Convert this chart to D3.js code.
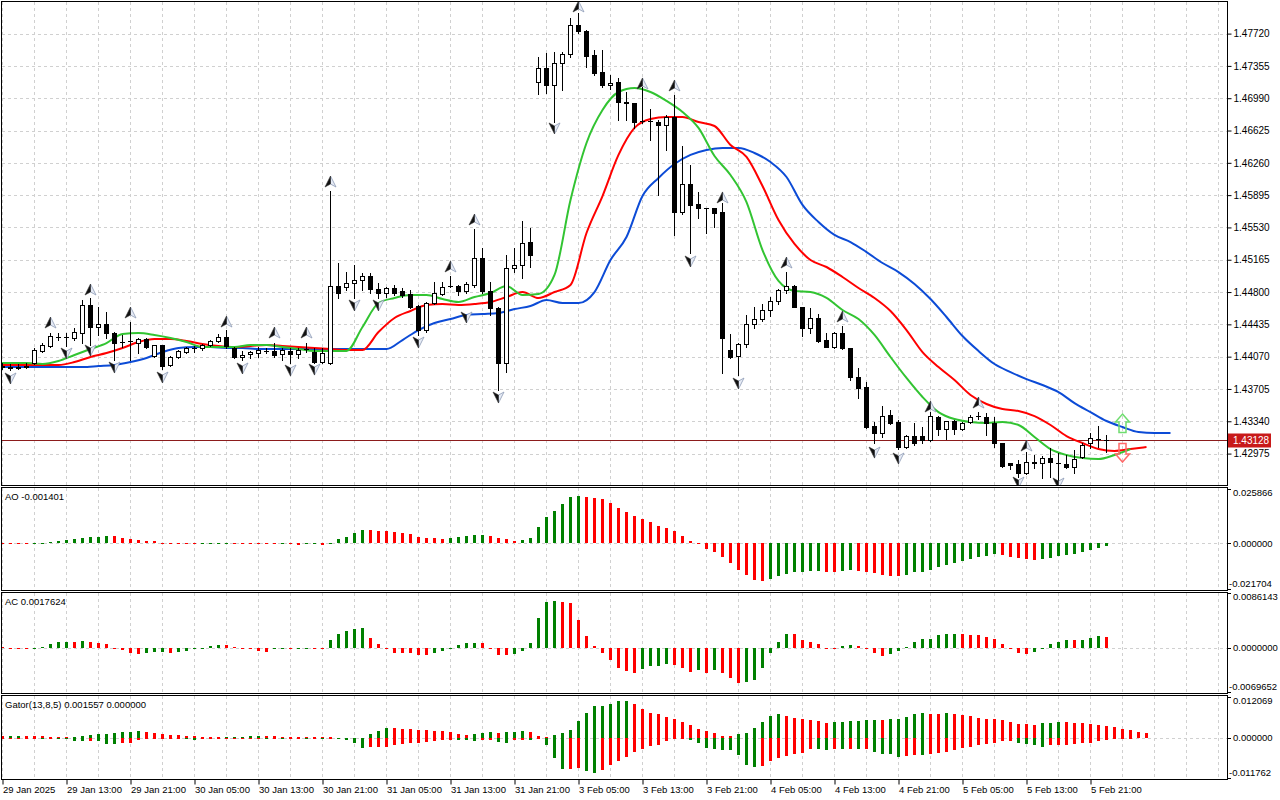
<!DOCTYPE html>
<html>
<head>
<meta charset="utf-8">
<script src="https://cdnjs.cloudflare.com/ajax/libs/d3/7.8.5/d3.min.js"></script>
<style>
  html, body { margin: 0; padding: 0; background: #fff; }
  svg { display: block; font-family: "Liberation Sans", Arial, sans-serif; font-size: 9.5px; }
</style>
</head>
<body>
<div id="chart"></div>
<script>
(function () {

  // ---- H1 candles, bar 0 = 29 Jan 2025 ----
  const opens = [
    1.43964, 1.43953, 1.43942, 1.43953, 1.43998, 1.44134, 1.44190, 1.44292, 1.44292, 1.44281,
    1.44337, 1.44654, 1.44405, 1.44439, 1.44337, 1.44235, 1.44247, 1.44224, 1.44269, 1.44077,
    1.44202, 1.43976, 1.44066, 1.44122, 1.44168, 1.44168, 1.44202, 1.44247, 1.44292, 1.44168,
    1.44066, 1.44100, 1.44111, 1.44134, 1.44134, 1.44100, 1.44134, 1.44100, 1.44156, 1.44122,
    1.44009, 1.43998, 1.44868, 1.44857, 1.44902, 1.44936, 1.44981, 1.44834, 1.44789, 1.44846,
    1.44812, 1.44778, 1.44642, 1.44371, 1.44676, 1.44778, 1.44868, 1.44868, 1.44812, 1.44880,
    1.45185, 1.44812, 1.44620, 1.43998, 1.45072, 1.45106, 1.45365, 1.47173, 1.47332, 1.47140,
    1.47388, 1.47490, 1.47818, 1.47750, 1.47479, 1.47286, 1.47140, 1.47173, 1.46947, 1.46936,
    1.46733, 1.46733, 1.46721, 1.46688, 1.46778, 1.45704, 1.46021, 1.45795, 1.45750, 1.45750,
    1.45704, 1.44145, 1.44077, 1.44213, 1.44439, 1.44495, 1.44597, 1.44699, 1.44823, 1.44868,
    1.44631, 1.44394, 1.44507, 1.44258, 1.44179, 1.44337, 1.44168, 1.43840, 1.43727, 1.43286,
    1.43207, 1.43411, 1.43331, 1.43049, 1.43173, 1.43173, 1.43128, 1.43388, 1.43252, 1.43343,
    1.43252, 1.43331, 1.43399, 1.43388, 1.43320, 1.43094, 1.42868, 1.42857, 1.42755, 1.42868,
    1.42868, 1.42925, 1.42868, 1.42857, 1.42823, 1.42936, 1.43094, 1.43139, 1.43128
  ]
  const highs = [
    1.43998, 1.43987, 1.43987, 1.43998, 1.44168, 1.44224, 1.44337, 1.44337, 1.44337, 1.44394,
    1.44710, 1.44733, 1.44631, 1.44574, 1.44348, 1.44315, 1.44461, 1.44281, 1.44281, 1.44202,
    1.44202, 1.44077, 1.44145, 1.44179, 1.44190, 1.44213, 1.44258, 1.44326, 1.44371, 1.44179,
    1.44134, 1.44134, 1.44179, 1.44168, 1.44224, 1.44168, 1.44168, 1.44168, 1.44224, 1.44168,
    1.44168, 1.45942, 1.45128, 1.45026, 1.45106, 1.45015, 1.45015, 1.44902, 1.44857, 1.44880,
    1.44846, 1.44823, 1.44654, 1.44687, 1.44913, 1.44913, 1.44981, 1.44880, 1.44913, 1.45512,
    1.45298, 1.44913, 1.44631, 1.45219, 1.45298, 1.45603, 1.45524, 1.47456, 1.47501, 1.47512,
    1.47512, 1.47897, 1.47953, 1.47761, 1.47535, 1.47535, 1.47253, 1.47219, 1.47060, 1.46936,
    1.47117, 1.46868, 1.46744, 1.46801, 1.47027, 1.46450, 1.46236, 1.45930, 1.45750, 1.45750,
    1.45806, 1.44326, 1.44224, 1.44541, 1.44631, 1.44665, 1.44744, 1.44834, 1.45026, 1.44880,
    1.44631, 1.44620, 1.44552, 1.44337, 1.44348, 1.44416, 1.44168, 1.43942, 1.43783, 1.43331,
    1.43512, 1.43467, 1.43354, 1.43185, 1.43320, 1.43275, 1.43444, 1.43399, 1.43343, 1.43354,
    1.43331, 1.43411, 1.43444, 1.43433, 1.43388, 1.43094, 1.42868, 1.42902, 1.42992, 1.42959,
    1.42947, 1.43038, 1.42981, 1.42959, 1.43015, 1.43094, 1.43207, 1.43286, 1.43185
  ]
  const lows = [
    1.43930, 1.43919, 1.43930, 1.43942, 1.43987, 1.44122, 1.44179, 1.44258, 1.44190, 1.44258,
    1.44224, 1.44202, 1.44315, 1.44281, 1.44032, 1.44179, 1.44032, 1.44111, 1.44168, 1.44066,
    1.43930, 1.43964, 1.44055, 1.44111, 1.44122, 1.44145, 1.44190, 1.44235, 1.44168, 1.44055,
    1.44032, 1.44055, 1.44066, 1.44111, 1.44066, 1.44032, 1.43998, 1.44055, 1.44122, 1.43998,
    1.43998, 1.43987, 1.44733, 1.44823, 1.44733, 1.44823, 1.44789, 1.44733, 1.44744, 1.44767,
    1.44744, 1.44620, 1.44315, 1.44348, 1.44665, 1.44767, 1.44857, 1.44767, 1.44789, 1.44857,
    1.44789, 1.44541, 1.43693, 1.43896, 1.45026, 1.44959, 1.45083, 1.47038, 1.47049, 1.46721,
    1.47083, 1.47456, 1.47727, 1.47343, 1.47253, 1.47117, 1.47094, 1.46744, 1.46744, 1.46654,
    1.46710, 1.46518, 1.45897, 1.46405, 1.45445, 1.45682, 1.45241, 1.45637, 1.45467, 1.45535,
    1.43885, 1.44055, 1.43863, 1.44179, 1.44394, 1.44473, 1.44529, 1.44665, 1.44789, 1.44631,
    1.44303, 1.44337, 1.44235, 1.44179, 1.44168, 1.44156, 1.43806, 1.43603, 1.43264, 1.43094,
    1.43162, 1.43309, 1.43026, 1.43038, 1.43072, 1.43094, 1.43117, 1.43185, 1.43139, 1.43196,
    1.43241, 1.43320, 1.43365, 1.43185, 1.43049, 1.42823, 1.42800, 1.42710, 1.42744, 1.42812,
    1.42699, 1.42710, 1.42653, 1.42812, 1.42755, 1.42925, 1.43038, 1.43049, 1.42992
  ]
  const closes = [
    1.43953, 1.43942, 1.43953, 1.43964, 1.44145, 1.44202, 1.44303, 1.44292, 1.44292, 1.44348,
    1.44654, 1.44405, 1.44439, 1.44337, 1.44224, 1.44235, 1.44247, 1.44269, 1.44179, 1.44202,
    1.43964, 1.44066, 1.44134, 1.44168, 1.44168, 1.44202, 1.44247, 1.44292, 1.44190, 1.44066,
    1.44089, 1.44122, 1.44145, 1.44134, 1.44089, 1.44145, 1.44100, 1.44145, 1.44156, 1.44009,
    1.44111, 1.44868, 1.44789, 1.44902, 1.44936, 1.44981, 1.44834, 1.44789, 1.44846, 1.44789,
    1.44767, 1.44631, 1.44371, 1.44676, 1.44789, 1.44857, 1.44868, 1.44812, 1.44891, 1.45185,
    1.44812, 1.44620, 1.43998, 1.45072, 1.45106, 1.45354, 1.45219, 1.47332, 1.47140, 1.47388,
    1.47490, 1.47818, 1.47750, 1.47467, 1.47275, 1.47140, 1.47162, 1.46947, 1.46936, 1.46721,
    1.46733, 1.46733, 1.46688, 1.46778, 1.45704, 1.46021, 1.45784, 1.45750, 1.45750, 1.45693,
    1.44281, 1.44066, 1.44213, 1.44439, 1.44495, 1.44597, 1.44699, 1.44823, 1.44868, 1.44631,
    1.44394, 1.44507, 1.44247, 1.44179, 1.44337, 1.44168, 1.43840, 1.43716, 1.43275, 1.43207,
    1.43399, 1.43320, 1.43049, 1.43173, 1.43094, 1.43128, 1.43399, 1.43252, 1.43343, 1.43252,
    1.43320, 1.43388, 1.43399, 1.43320, 1.43094, 1.42834, 1.42846, 1.42755, 1.42879, 1.42879,
    1.42925, 1.42879, 1.42868, 1.42823, 1.42913, 1.43072, 1.43151, 1.43139, 1.43128
  ]

  // ---- Alligator, read every second bar ----
  const jawStart = 0     // bars 0, 2, 4 ... 146 (shifted 8 bars ahead)
  const jaw = [
    1.43953, 1.43953, 1.43953, 1.43953, 1.43953, 1.43953, 1.43964, 1.43976, 1.44009, 1.44055,
    1.44122, 1.44168, 1.44179, 1.44179, 1.44168, 1.44168, 1.44156, 1.44156, 1.44156, 1.44156,
    1.44156, 1.44156, 1.44156, 1.44156, 1.44156, 1.44258, 1.44371, 1.44450, 1.44495, 1.44541,
    1.44552, 1.44563, 1.44608, 1.44642, 1.44710, 1.44676, 1.44676, 1.44800, 1.45162, 1.45422,
    1.45885, 1.46089, 1.46247, 1.46349, 1.46405, 1.46428, 1.46428, 1.46371, 1.46269, 1.46100,
    1.45784, 1.45591, 1.45445, 1.45365, 1.45252, 1.45128, 1.45026, 1.44891, 1.44721, 1.44518,
    1.44303, 1.44134, 1.43987, 1.43896, 1.43817, 1.43750, 1.43670, 1.43546, 1.43444, 1.43343,
    1.43275, 1.43218, 1.43207, 1.43207
  ]
  const teethStart = -1  // bars -1, 1, 3 ... 143
  const teeth = [
    1.43976, 1.43976, 1.43976, 1.43976, 1.43976, 1.44009, 1.44066, 1.44111, 1.44168, 1.44235,
    1.44269, 1.44269, 1.44247, 1.44213, 1.44190, 1.44179, 1.44190, 1.44202, 1.44190, 1.44179,
    1.44168, 1.44156, 1.44145, 1.44145, 1.44348, 1.44507, 1.44586, 1.44654, 1.44665, 1.44654,
    1.44665, 1.44687, 1.44744, 1.44800, 1.44733, 1.44800, 1.44880, 1.45467, 1.45885, 1.46349,
    1.46654, 1.46755, 1.46778, 1.46778, 1.46721, 1.46676, 1.46462, 1.46326, 1.45998, 1.45614,
    1.45343, 1.45162, 1.45083, 1.44970, 1.44846, 1.44733, 1.44586, 1.44371, 1.44122, 1.43953,
    1.43806, 1.43637, 1.43535, 1.43478, 1.43456, 1.43399, 1.43298, 1.43173, 1.43094, 1.43026,
    1.43004, 1.43026, 1.43049
  ]
  const lipsStart = -1   // bars -1, 1, 3 ... 141
  const lips = [
    1.43998, 1.43998, 1.43998, 1.43987, 1.44021, 1.44089, 1.44156, 1.44224, 1.44326, 1.44337,
    1.44315, 1.44281, 1.44235, 1.44179, 1.44179, 1.44179, 1.44202, 1.44202, 1.44179, 1.44156,
    1.44134, 1.44134, 1.44134, 1.44405, 1.44676, 1.44733, 1.44767, 1.44767, 1.44721, 1.44687,
    1.44744, 1.44789, 1.44868, 1.44767, 1.44778, 1.44993, 1.45840, 1.46484, 1.46857, 1.47060,
    1.47106, 1.47060, 1.46959, 1.46834, 1.46654, 1.46337, 1.46123, 1.45817, 1.45275, 1.44925,
    1.44812, 1.44800, 1.44733, 1.44597, 1.44495, 1.44315, 1.44066, 1.43829, 1.43614, 1.43444,
    1.43365, 1.43331, 1.43320, 1.43331, 1.43298, 1.43162, 1.43026, 1.42959, 1.42925, 1.42913,
    1.42959, 1.43026
  ]

  // ---- Fractal arrows (bar, price of the arrow) ----
  const fractalUpBars = [6, 11, 16, 28, 34, 38, 41, 56, 59, 72, 80, 84, 90, 98, 105, 116, 122, 128]
  const fractalUpMarks = [1.44450, 1.44823, 1.44563, 1.44461, 1.44337, 1.44337, 1.46043, 1.45083, 1.45614,
    1.48021, 1.47151, 1.47128, 1.45863, 1.45128, 1.44518, 1.43501, 1.43546, 1.43060]
  const fractalDownBars = [1, 8, 11, 14, 20, 30, 36, 39, 44, 47, 52, 58, 62, 69, 86, 92, 109, 112, 127, 132]
  const fractalDownMarks = [1.43829, 1.44111, 1.44145, 1.43953, 1.43840, 1.43942, 1.43919, 1.43930, 1.44654,
    1.44654, 1.44235, 1.44518, 1.43614, 1.46654, 1.45151, 1.43772, 1.42992, 1.42925, 1.42653, 1.42642]

  // big hollow signal arrows at the right edge
  const signalBars = [140, 140]
  const signalPrices = [1.43314, 1.42987]
  const signalTypes = ["buy", "sell"]

  // ---- Oscillators ----
  const aoValues = [
    0.00020, 0.00015, 0.00010, 0.00005, 0.00010, 0.00030, 0.00060, 0.00110, 0.00160, 0.00210,
    0.00250, 0.00300, 0.00320, 0.00370, 0.00330, 0.00270, 0.00220, 0.00140, 0.00100, 0.00090,
    0.00030, 0.00020, 0.00015, 0.00010, 0.00005, 0.00010, 0.00015, 0.00025, 0.00030, 0.00025,
    0.00010, 0.00005, -0.00005, -0.00040, -0.00050, -0.00045, -0.00050, -0.00055, -0.00050, -0.00045,
    -0.00060, 0.00015, 0.00190, 0.00320, 0.00480, 0.00650, 0.00620, 0.00610, 0.00580, 0.00540,
    0.00480, 0.00430, 0.00320, 0.00270, 0.00240, 0.00230, 0.00240, 0.00290, 0.00350, 0.00380,
    0.00390, 0.00330, 0.00240, 0.00190, 0.00130, 0.00150, 0.00240, 0.00760, 0.01240, 0.01530,
    0.01860, 0.02220, 0.02240, 0.02190, 0.02140, 0.02090, 0.01900, 0.01670, 0.01470, 0.01300,
    0.01140, 0.01000, 0.00810, 0.00710, 0.00590, 0.00330, 0.00110, 0.00010, -0.00290, -0.00430,
    -0.00670, -0.00950, -0.01270, -0.01510, -0.01740, -0.01790, -0.01700, -0.01570, -0.01470, -0.01380,
    -0.01370, -0.01320, -0.01310, -0.01360, -0.01370, -0.01320, -0.01280, -0.01330, -0.01360, -0.01430,
    -0.01520, -0.01550, -0.01560, -0.01510, -0.01380, -0.01350, -0.01270, -0.01130, -0.01030, -0.00950,
    -0.00840, -0.00750, -0.00650, -0.00590, -0.00490, -0.00560, -0.00630, -0.00710, -0.00760, -0.00770,
    -0.00750, -0.00700, -0.00620, -0.00560, -0.00510, -0.00430, -0.00330, -0.00220, -0.001401
  ]
  const acValues = [
    0.00004, 0.00003, 0.00002, 0.00001, 0.00003, 0.00015, 0.00052, 0.00094, 0.00096, 0.00093,
    0.00110, 0.00094, 0.00079, 0.00063, 0.00002, -0.00037, -0.00079, -0.00105, -0.00089, -0.00063,
    -0.00062, -0.00079, -0.00063, -0.00052, -0.00016, 0.00003, 0.00026, 0.00047, 0.00042, 0.00010,
    0.00003, -0.00026, -0.00052, -0.00063, -0.00026, -0.00005, -0.00010, -0.00006, -0.00003, -0.00008,
    -0.00012, 0.00126, 0.00220, 0.00260, 0.00300, 0.00315, 0.00157, 0.00052, -0.00016, -0.00079,
    -0.00080, -0.00081, -0.00115, -0.00121, -0.00089, -0.00052, -0.00005, 0.00037, 0.00068, 0.00079,
    0.00068, -0.00010, -0.00115, -0.00121, -0.00105, -0.00052, 0.00068, 0.00470, 0.00720, 0.00735,
    0.00720, 0.00710, 0.00430, 0.00184, 0.00026, -0.00089, -0.00200, -0.00325, -0.00370, -0.00390,
    -0.00340, -0.00294, -0.00290, -0.00260, -0.00278, -0.00325, -0.00380, -0.00357, -0.00400, -0.00357,
    -0.00404, -0.00480, -0.00560, -0.00540, -0.00500, -0.00325, -0.00090, 0.00095, 0.00215, 0.00210,
    0.00126, 0.00095, 0.00063, 0.00002, -0.00003, 0.00032, 0.00047, 0.00032, -0.00005, -0.00089,
    -0.00130, -0.00105, -0.00052, 0.00005, 0.00095, 0.00140, 0.00142, 0.00194, 0.00210, 0.00220,
    0.00210, 0.00195, 0.00194, 0.00173, 0.00140, 0.00052, -0.00016, -0.00089, -0.00105, -0.00068,
    0.00003, 0.00052, 0.00095, 0.00127, 0.00125, 0.00126, 0.00157, 0.00185, 0.0017624
  ]
  const gatorUpper = [
    0.00045, 0.00050, 0.00055, 0.00050, 0.00048, 0.00045, 0.00030, 0.00020, 0.00020, 0.00030,
    0.00050, 0.00080, 0.00110, 0.00120, 0.00150, 0.00180, 0.00185, 0.00200, 0.00170, 0.00150,
    0.00120, 0.00090, 0.00085, 0.00070, 0.00050, 0.00030, 0.00025, 0.00020, 0.00025, 0.00030,
    0.00040, 0.00050, 0.00060, 0.00055, 0.00045, 0.00040, 0.00035, 0.00030, 0.00030, 0.00025,
    0.00025, 0.00020, 0.00015, 0.00010, 0.00008, 0.00010, 0.00130, 0.00210, 0.00300, 0.00295,
    0.00280, 0.00270, 0.00250, 0.00240, 0.00220, 0.00200, 0.00190, 0.00130, 0.00100, 0.00110,
    0.00150, 0.00180, 0.00150, 0.00170, 0.00180, 0.00210, 0.00180, 0.00050, 0.00030, 0.00080,
    0.00150, 0.00250, 0.00500, 0.00750, 0.00930, 0.00940, 0.01000, 0.01080, 0.01090, 0.01000,
    0.00850, 0.00750, 0.00700, 0.00620, 0.00550, 0.00480, 0.00380, 0.00280, 0.00200, 0.00150,
    0.00060, 0.00050, 0.00120, 0.00150, 0.00300, 0.00480, 0.00650, 0.00720, 0.00650, 0.00580,
    0.00570, 0.00530, 0.00500, 0.00450, 0.00480, 0.00485, 0.00500, 0.00505, 0.00520, 0.00530,
    0.00525, 0.00550, 0.00570, 0.00620, 0.00700, 0.00730, 0.00720, 0.00715, 0.00725, 0.00700,
    0.00670, 0.00650, 0.00600, 0.00570, 0.00550, 0.00520, 0.00480, 0.00420, 0.00400, 0.00395,
    0.00430, 0.00450, 0.00480, 0.00470, 0.00450, 0.00430, 0.00420, 0.00390, 0.00360, 0.00310,
    0.00270, 0.00230, 0.00190, 0.001557
  ]
  const gatorLower = [
    -0.00020, -0.00020, -0.00020, -0.00015, -0.00010, -0.00015, -0.00015, -0.00020, -0.00030, -0.00090,
    -0.00095, -0.00090, -0.00095, -0.00170, -0.00190, -0.00150, -0.00145, -0.00070, -0.00030, -0.00020,
    -0.00015, -0.00010, -0.00005, -0.00010, -0.00050, -0.00040, -0.00020, -0.00015, -0.00015, -0.00010,
    -0.00010, -0.00010, -0.00005, -0.00010, -0.00010, -0.00015, -0.00010, -0.00010, -0.00015, -0.00010,
    -0.00015, -0.00010, -0.00020, -0.00050, -0.00150, -0.00300, -0.00270, -0.00260, -0.00250, -0.00210,
    -0.00170, -0.00150, -0.00145, -0.00120, -0.00080, -0.00070, -0.00050, -0.00055, -0.00070, -0.00075,
    -0.00060, -0.00050, -0.00120, -0.00150, -0.00070, -0.00050, -0.00070, -0.00020, -0.00200, -0.00580,
    -0.00910, -0.00900, -0.00890, -0.00980, -0.01020, -0.00930, -0.00780, -0.00670, -0.00550, -0.00420,
    -0.00330, -0.00230, -0.00200, -0.00100, -0.00030, -0.00020, -0.00050, -0.00150, -0.00280, -0.00320,
    -0.00350, -0.00355, -0.00500, -0.00780, -0.00850, -0.00820, -0.00680, -0.00580, -0.00520, -0.00480,
    -0.00450, -0.00320, -0.00330, -0.00340, -0.00330, -0.00335, -0.00320, -0.00330, -0.00320, -0.00400,
    -0.00470, -0.00475, -0.00550, -0.00530, -0.00500, -0.00505, -0.00480, -0.00450, -0.00400, -0.00350,
    -0.00280, -0.00250, -0.00200, -0.00180, -0.00160, -0.00100, -0.00080, -0.00140, -0.00170, -0.00220,
    -0.00250, -0.00220, -0.00200, -0.00195, -0.00180, -0.00160, -0.00150, -0.00100, -0.00070, -0.00040,
    -0.00020, -0.00005
  ]

  // ---- Axis labels ----
  const priceTicks = [1.47720, 1.47355, 1.46990, 1.46625, 1.46260, 1.45895, 1.45530,
    1.45165, 1.44800, 1.44435, 1.44070, 1.43705, 1.43340, 1.42975]
  const timeLabels = ["29 Jan 2025", "29 Jan 13:00", "29 Jan 21:00", "30 Jan 05:00", "30 Jan 13:00",
    "30 Jan 21:00", "31 Jan 05:00", "31 Jan 13:00", "31 Jan 21:00", "3 Feb 05:00", "3 Feb 13:00",
    "3 Feb 21:00", "4 Feb 05:00", "4 Feb 13:00", "4 Feb 21:00", "5 Feb 05:00", "5 Feb 13:00", "5 Feb 21:00"]
  const timeLabelStep = 8
  const aoRange = [-0.021704, 0.025866]
  const acRange = [-0.0069652, 0.0086143]
  const gatorRange = [-0.011762, 0.012069]

  // ---- Layout ----
  const frameRight = 1227
  const panels = {
    main:  { top: 1,   bottom: 485 },
    ao:    { top: 487, bottom: 590 },
    ac:    { top: 592, bottom: 693 },
    gator: { top: 695, bottom: 779 }
  }
  const GREEN = "#008000", RED = "#ff0000"
  const FONT = "Liberation Sans"

  const svg = d3.select("#chart").append("svg")
      .attr("width", 1280)
      .attr("height", 800)

  const x = d3.scaleLinear().domain([0, 153]).range([2.5, 2.5 + 153 * 8])
  const yMain = d3.scaleLinear().domain([1.42620, 1.48077]).range([485, 2])
  const yAO = d3.scaleLinear().domain(aoRange).range([589, 489])
  const yAC = d3.scaleLinear().domain(acRange).range([692, 593])
  const yGator = d3.scaleLinear().domain(gatorRange).range([778, 697])

  const defs = svg.append("defs")
  Object.entries(panels).forEach(([name, p]) => {
    defs.append("clipPath").attr("id", "clip-" + name)
      .append("rect")
      .attr("x", 2).attr("y", p.top + 1)
      .attr("width", frameRight - 2).attr("height", p.bottom - p.top - 1)
  })

  // Grid
  const gridBars = d3.range(0, 153, 4)
  Object.values(panels).forEach(p => {
    svg.append("g")
      .selectAll("line")
      .data(gridBars)
      .join("line")
      .attr("x1", d => x(d)).attr("x2", d => x(d))
      .attr("y1", p.top + 1).attr("y2", p.bottom)
      .attr("stroke", "#d0d0d0")
      .attr("stroke-dasharray", "3,3")
  })
  svg.append("g")
    .selectAll("line")
    .data(priceTicks)
    .join("line")
    .attr("x1", 2).attr("x2", frameRight)
    .attr("y1", d => Math.round(yMain(d)) + 0.5).attr("y2", d => Math.round(yMain(d)) + 0.5)
    .attr("stroke", "#d0d0d0")
    .attr("stroke-dasharray", "3,3")
  ;[yAO, yAC, yGator].forEach(s => {
    svg.append("line")
      .attr("x1", 2).attr("x2", frameRight)
      .attr("y1", Math.round(s(0)) + 0.5).attr("y2", Math.round(s(0)) + 0.5)
      .attr("stroke", "#d0d0d0")
      .attr("stroke-dasharray", "3,3")
  })

  // ---- Main panel ----
  const main = svg.append("g").attr("clip-path", "url(#clip-main)")

  // current price line
  const lastClose = closes[closes.length - 1]
  main.append("line")
    .attr("x1", 2).attr("x2", frameRight)
    .attr("y1", Math.round(yMain(lastClose)) + 0.5).attr("y2", Math.round(yMain(lastClose)) + 0.5)
    .attr("stroke", "#8c1c1c")

  // alligator lines
  const lineGen = d3.line()
    .x(d => x(d[0]))
    .y(d => yMain(d[1]))
    .curve(d3.curveMonotoneX)
  const alligator = [
    { values: jaw, start: jawStart, color: "#0c4bd6" },
    { values: teeth, start: teethStart, color: "#ff0000" },
    { values: lips, start: lipsStart, color: "#32c432" }
  ]
  alligator.forEach(a => {
    main.append("path")
      .datum(a.values.map((v, j) => [a.start + 2 * j, v]))
      .attr("d", lineGen)
      .attr("fill", "none")
      .attr("stroke", a.color)
      .attr("stroke-width", 2)
  })

  // candles
  const candles = opens.map((o, i) => ({ i, o, h: highs[i], l: lows[i], c: closes[i] }))
  const cg = main.append("g").attr("shape-rendering", "crispEdges")
  cg.selectAll("line.wick")
    .data(candles)
    .join("line")
    .attr("class", "wick")
    .attr("x1", d => x(d.i)).attr("x2", d => x(d.i))
    .attr("y1", d => Math.round(yMain(d.h)))
    .attr("y2", d => Math.round(yMain(d.l)) + 1)
    .attr("stroke", "#000")

  candles.forEach(d => {
    const top = Math.round(yMain(Math.max(d.o, d.c))) + 0.5
    const bot = Math.round(yMain(Math.min(d.o, d.c))) + 0.5
    if (bot - top < 1) {
      cg.append("line")
        .attr("x1", x(d.i) - 2.5).attr("x2", x(d.i) + 2.5)
        .attr("y1", top).attr("y2", top)
        .attr("stroke", "#000")
    } else {
      cg.append("rect")
        .attr("x", x(d.i) - 2).attr("y", top)
        .attr("width", 4).attr("height", bot - top)
        .attr("fill", d.c > d.o ? "#fff" : "#000")
        .attr("stroke", "#000")
    }
  })

  // fractal arrows
  function fractal(g, bar, price, up) {
    const s = up ? 1 : -1
    const m = g.append("g").attr("transform", `translate(${x(bar)},${yMain(price)}) scale(1,${s})`)
    m.append("path")
      .attr("d", "M0,-6 L5.5,5 L0,2 Z")
      .attr("fill", "#e6ebf5")
      .attr("stroke", "#8d9ab5")
      .attr("stroke-width", 0.8)
    m.append("path")
      .attr("d", "M0,-6 L-5.5,5 L0,2 Z")
      .attr("fill", "#111")
      .attr("stroke", "#333")
      .attr("stroke-width", 0.6)
  }
  fractalUpBars.forEach((b, j) => fractal(main, b, fractalUpMarks[j], true))
  fractalDownBars.forEach((b, j) => fractal(main, b, fractalDownMarks[j], false))

  // hollow signal arrows
  signalBars.forEach((b, j) => {
    const buy = signalTypes[j] === "buy"
    main.append("path")
      .attr("transform", `translate(${x(b)},${yMain(signalPrices[j])}) scale(1,${buy ? 1 : -1})`)
      .attr("d", "M0,-9.5 L7,-1.5 L3.5,-1.5 L3.5,9 L-3.5,9 L-3.5,-1.5 L-7,-1.5 Z")
      .attr("fill", "none")
      .attr("stroke", buy ? "#6fdc6f" : "#ff6a6a")
      .attr("stroke-width", 1.5)
  })

  // ---- Histograms ----
  function histogram(name, values, scale, byMagnitude) {
    const g = svg.append("g").attr("clip-path", "url(#clip-" + name + ")")
      .attr("shape-rendering", "crispEdges")
    g.selectAll("rect")
      .data(values)
      .join("rect")
      .attr("x", (d, i) => x(i) - 1.5)
      .attr("width", 3)
      .attr("y", d => Math.round(scale(Math.max(d, 0))))
      .attr("height", d => Math.max(1, Math.round(scale(Math.min(d, 0))) - Math.round(scale(Math.max(d, 0)))))
      .attr("fill", (d, i) => {
        if (i === 0) return RED
        const prev = values[i - 1]
        const up = byMagnitude ? Math.abs(d) > Math.abs(prev) : d > prev
        return up ? GREEN : RED
      })
  }
  histogram("ao", aoValues, yAO, false)
  histogram("ac", acValues, yAC, false)
  histogram("gator", gatorUpper, yGator, true)
  histogram("gator", gatorLower, yGator, true)

  // ---- Frames ----
  Object.values(panels).forEach(p => {
    svg.append("rect")
      .attr("x", 1.5).attr("y", p.top + 0.5)
      .attr("width", frameRight - 1).attr("height", p.bottom - p.top)
      .attr("fill", "none")
      .attr("stroke", "#000")
  })

  // ---- Right axis ----
  const priceAxis = d3.axisRight(yMain)
    .tickValues(priceTicks)
    .tickFormat(d3.format(".5f"))
    .tickSize(4)
    .tickPadding(2)
  svg.append("g")
    .attr("transform", `translate(${frameRight + 0.5},0)`)
    .call(priceAxis)
    .call(g => g.select(".domain").remove())
    .call(g => g.selectAll("text").attr("font-family", FONT).attr("font-size", 10).attr("fill", "#000"))

  // sub-window scales: ticks sit on the value, labels are nudged inside the window
  function subAxis(scale, range, digits) {
    const items = [
      { v: range[1], y: scale(range[1]) + 4 },
      { v: 0, y: scale(0) },
      { v: range[0], y: scale(range[0]) - 5 }
    ]
    const g = svg.append("g")
    g.selectAll("line").data(items).join("line")
      .attr("x1", frameRight).attr("x2", frameRight + 4)
      .attr("y1", d => Math.round(scale(d.v)) + 0.5).attr("y2", d => Math.round(scale(d.v)) + 0.5)
      .attr("stroke", "#000")
    g.selectAll("text").data(items).join("text")
      .attr("x", d => d.v < 0 ? frameRight + 2 : frameRight + 6)
      .attr("y", d => d.y)
      .attr("dy", "0.35em")
      .text(d => d.v.toFixed(digits))
  }
  subAxis(yAO, aoRange, 6)
  subAxis(yAC, acRange, 7)
  subAxis(yGator, gatorRange, 6)

  // current price tag
  svg.append("rect")
    .attr("x", frameRight + 1).attr("y", Math.round(yMain(lastClose)) - 6.5)
    .attr("width", 43).attr("height", 14)
    .attr("fill", "#c81a1a")
  svg.append("text")
    .attr("x", frameRight + 6).attr("y", yMain(lastClose))
    .attr("dy", "0.35em")
    .attr("font-size", 10)
    .attr("fill", "#fff")
    .text(lastClose.toFixed(5))

  // ---- Time axis ----
  const timeBars = timeLabels.map((t, i) => i * timeLabelStep)
  const timeAxis = d3.axisBottom(x)
    .tickValues(timeBars)
    .tickFormat((d, i) => timeLabels[i])
    .tickSize(5)
    .tickPadding(2)
  svg.append("g")
    .attr("transform", `translate(0,${panels.gator.bottom + 0.5})`)
    .call(timeAxis)
    .call(g => g.select(".domain").remove())
    .call(g => g.selectAll("text")
      .attr("text-anchor", "start")
      .attr("font-family", FONT).attr("font-size", 9.5).attr("fill", "#000"))

  // ---- Panel captions ----
  const captions = [
    { text: "AO " + aoValues[aoValues.length - 1].toFixed(6), p: panels.ao },
    { text: "AC " + acValues[acValues.length - 1].toFixed(7), p: panels.ac },
    { text: "Gator(13,8,5) " + gatorUpper[gatorUpper.length - 1].toFixed(6) + " 0.000000", p: panels.gator }
  ]
  captions.forEach(c => {
    svg.append("text")
      .attr("x", 5).attr("y", c.p.top + 13)
      .attr("fill", "#000")
      .text(c.text)
  })

})();
</script>
</body>
</html>
